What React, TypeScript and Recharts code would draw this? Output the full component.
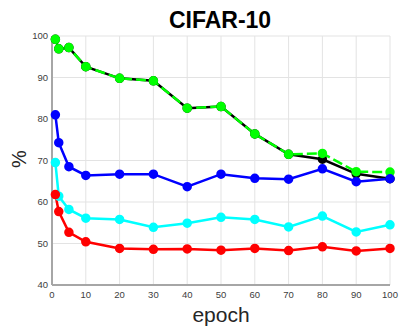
import React from 'react';
import { LineChart, Line, XAxis, YAxis, CartesianGrid } from 'recharts';

const epochs = [1, 2, 5, 10, 20, 30, 40, 50, 60, 70, 80, 90, 100];
const blackSeries = [99.2, 96.9, 97.2, 92.6, 89.8, 89.2, 82.6, 83.0, 76.4, 71.5, 70.3, 66.8, 65.6];
const greenSeries = [99.2, 96.9, 97.2, 92.6, 89.8, 89.2, 82.6, 83.0, 76.4, 71.5, 71.7, 67.3, 67.2];
const blueSeries = [81.0, 74.3, 68.5, 66.4, 66.7, 66.7, 63.7, 66.7, 65.7, 65.5, 68.0, 64.9, 65.6];
const cyanSeries = [69.5, 61.4, 58.2, 56.1, 55.8, 53.9, 54.9, 56.3, 55.8, 54.0, 56.6, 52.8, 54.5];
const redSeries = [61.8, 57.7, 52.7, 50.4, 48.8, 48.6, 48.7, 48.4, 48.8, 48.3, 49.2, 48.2, 48.8];
const xTicks = [0, 10, 20, 30, 40, 50, 60, 70, 80, 90, 100];
const yTicks = [40, 50, 60, 70, 80, 90, 100];

const data = epochs.map((e, i) => ({
  epoch: e,
  black: blackSeries[i],
  green: greenSeries[i],
  blue: blueSeries[i],
  cyan: cyanSeries[i],
  red: redSeries[i],
}));

const font = 'Liberation Sans, Arial, Helvetica, sans-serif';
const tickStyle = { fontSize: 9.5, fill: '#404040', fontFamily: font };

export default function App() {
  return (
    <div style={{ position: 'absolute', left: 0, top: 0, width: 419, height: 327, background: '#fff' }}>
      <LineChart width={419} height={327} data={data} margin={{ top: 36, right: 29, left: 0, bottom: 0 }}>
        <CartesianGrid stroke="#e3e3e3" strokeWidth={1} />
        <XAxis
          dataKey="epoch"
          type="number"
          domain={[0, 100]}
          ticks={xTicks}
          interval={0}
          height={42}
          stroke="#a6a6a6"
          strokeWidth={2}
          tickLine={false}
          tickSize={4}
          tickMargin={2}
          tick={tickStyle}
        />
        <YAxis
          type="number"
          domain={[40, 100]}
          ticks={yTicks}
          interval={0}
          width={52}
          stroke="#a6a6a6"
          strokeWidth={2}
          tickLine={false}
          tickSize={2}
          tickMargin={2}
          tick={tickStyle}
        />
        <Line dataKey="black" stroke="#000000" strokeWidth={2.5} dot={{ r: 3.5, fill: '#000000', stroke: '#000000' }} isAnimationActive={false} />
        <Line dataKey="green" stroke="#00ff00" strokeWidth={2.5} strokeDasharray="10 4" dot={{ r: 3.5, fill: '#00ff00', stroke: '#00ff00', strokeDasharray: '0' }} isAnimationActive={false} />
        <Line dataKey="blue" stroke="#0000ff" strokeWidth={2.5} dot={{ r: 3.5, fill: '#0000ff', stroke: '#0000ff' }} isAnimationActive={false} />
        <Line dataKey="cyan" stroke="#00ffff" strokeWidth={2.5} dot={{ r: 3.5, fill: '#00ffff', stroke: '#00ffff' }} isAnimationActive={false} />
        <Line dataKey="red" stroke="#ff0000" strokeWidth={2.5} dot={{ r: 3.5, fill: '#ff0000', stroke: '#ff0000' }} isAnimationActive={false} />
        <text x={220} y={28} textAnchor="middle" fontFamily={font} fontWeight="bold" fontSize={23} fill="#000">CIFAR-10</text>
        <text x={221} y={322} textAnchor="middle" fontFamily={font} fontSize={21} fill="#262626">epoch</text>
        <text x={26} y={159} textAnchor="middle" fontFamily={font} fontSize={20} fill="#262626" transform="rotate(-90, 26, 159)">%</text>
      </LineChart>
    </div>
  );
}
